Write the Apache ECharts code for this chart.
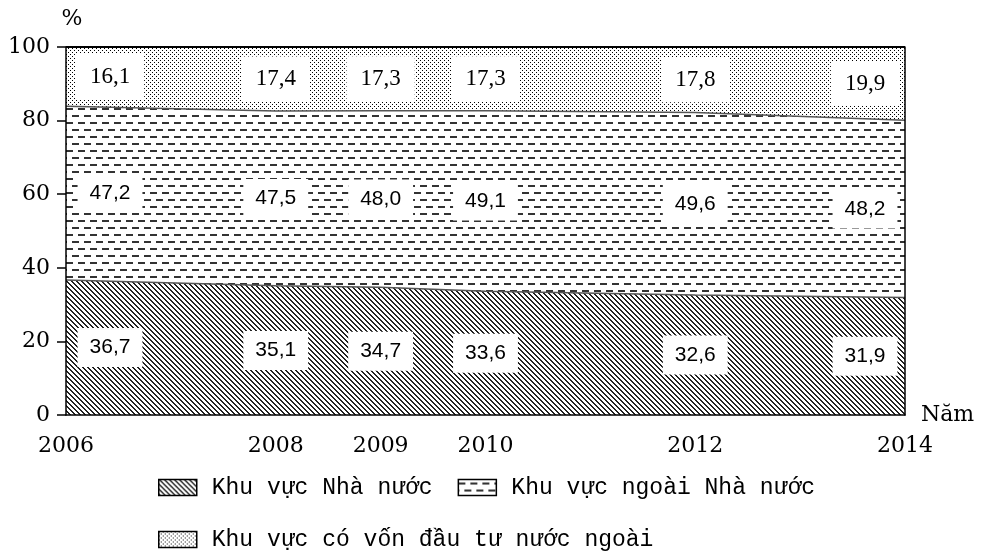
<!DOCTYPE html>
<html>
<head>
<meta charset="utf-8">
<script src="https://cdn.jsdelivr.net/npm/echarts@6/dist/echarts.min.js"></script>
<style>
  html, body { margin: 0; padding: 0; background: #fff; }
  #chart { width: 985px; height: 554px; }
</style>
</head>
<body>
<div id="chart"></div>
<script>
// co cau lao dong theo khu vuc kinh te (%), 2006 - 2014
var years = [2006, 2008, 2009, 2010, 2012, 2014];
var stateShare = [36.7, 35.1, 34.7, 33.6, 32.6, 31.9];
var nonStateShare = [47.2, 47.5, 48.0, 49.1, 49.6, 48.2];
var foreignShare = [16.1, 17.4, 17.3, 17.3, 17.8, 19.9];
var seriesNames = ['Khu vực Nhà nước', 'Khu vực ngoài Nhà nước', 'Khu vực có vốn đầu tư nước ngoài'];

// fill patterns like the printed figure
function makePattern(w, h, draw) {
    var c = document.createElement('canvas');
    c.width = w;
    c.height = h;
    var ctx = c.getContext('2d');
    ctx.fillStyle = '#fff';
    ctx.fillRect(0, 0, w, h);
    draw(ctx);
    return { image: c, repeat: 'repeat' };
}

var hatch = makePattern(5, 5, function (ctx) {
    ctx.fillStyle = '#222';
    for (var i = 0; i < 5; i++) {
        ctx.fillRect(i, i, 1, 1);
        ctx.fillRect((i + 1) % 5, i, 1, 1);
    }
});
var dashes = makePattern(12, 14, function (ctx) {
    ctx.fillStyle = '#333';
    ctx.fillRect(0, 3, 7, 2);
    ctx.fillRect(6, 10, 6, 2);
    ctx.fillRect(0, 10, 1, 2);
});
var dots = makePattern(4, 4, function (ctx) {
    ctx.fillStyle = '#000';
    ctx.fillRect(0, 0, 1, 1);
    ctx.fillRect(2, 2, 1, 1);
});

var bands = [stateShare, nonStateShare, foreignShare];
var fills = [hatch, dashes, dots];

// cumulative top edge of band k (bands are painted from the top one down)
function cumulative(k) {
    return years.map(function (y, i) {
        var s = 0;
        for (var j = 0; j <= k; j++) s += bands[j][i];
        return [y, Math.round(s * 10) / 10];
    });
}

// label points sit in the middle of each band
function labelPoints(k) {
    return years.map(function (y, i) {
        var base = 0;
        for (var j = 0; j < k; j++) base += bands[j][i];
        var dx = 0;
        if (i === 0) dx = 44;
        if (i === years.length - 1) dx = -40;
        return { value: [y, base + bands[k][i] / 2, bands[k][i]], label: { offset: [dx, 0] } };
    });
}

var series = [];
for (var k = 2; k >= 0; k--) {
    series.push({
        name: seriesNames[k],
        type: 'line',
        symbol: 'none',
        silent: true,
        data: cumulative(k),
        lineStyle: { color: k === 2 ? '#000' : '#555', width: k === 2 ? 2 : 1.5 },
        areaStyle: { color: fills[k], opacity: 1, origin: 'start' },
        z: 4 - k
    });
}
for (var k = 0; k < 3; k++) {
    series.push({
        type: 'scatter',
        symbolSize: 0,
        silent: true,
        z: 6,
        itemStyle: { opacity: 1 },
        data: labelPoints(k),
        label: {
            show: true,
            position: 'inside',
            formatter: function (p) { return p.value[2].toFixed(1).replace('.', ','); },
            color: '#000',
            fontFamily: k === 2 ? 'Liberation Serif' : 'Liberation Sans',
            fontSize: k === 2 ? 23 : 21,
            backgroundColor: '#fff',
            padding: k === 2 ? [11, 14] : [9, 12]
        }
    });
}

var legendText = { fontFamily: 'Liberation Mono', fontSize: 23, color: '#000', padding: [0, 0, 0, 10] };
function legendItem(k) {
    return { name: seriesNames[k], itemStyle: { color: fills[k], borderColor: '#000', borderWidth: 1.5 } };
}

var dom = document.getElementById('chart');
var myChart = echarts.init(dom);
var option = {
    animation: false,
    backgroundColor: '#fff',
    grid: { left: 66, right: 80, top: 47, bottom: 139, containLabel: false },
    legend: [
        {
            data: [legendItem(0), legendItem(1)],
            left: 158, top: 476, padding: 0,
            icon: 'rect', itemWidth: 38, itemHeight: 16, itemGap: 25,
            selectedMode: false,
            textStyle: legendText
        },
        {
            data: [legendItem(2)],
            left: 158, top: 528, padding: 0,
            icon: 'rect', itemWidth: 38, itemHeight: 16,
            selectedMode: false,
            textStyle: legendText
        }
    ],
    xAxis: {
        type: 'value',
        min: 2006, max: 2014, interval: 1,
        z: 10,
        axisLine: { lineStyle: { color: '#000', width: 1.5 } },
        axisTick: { show: false },
        splitLine: { show: false },
        axisLabel: {
            margin: 20,
            color: '#000',
            fontFamily: 'DejaVu Serif',
            fontSize: 22,
            formatter: function (v) { return years.indexOf(v) >= 0 ? String(v) : ''; }
        },
        name: 'Năm',
        nameLocation: 'end',
        nameGap: 16,
        nameTextStyle: { color: '#000', fontFamily: 'DejaVu Serif', fontSize: 22 }
    },
    yAxis: [
        {
            type: 'value',
            min: 0, max: 100, interval: 20,
            z: 10,
            axisLine: { show: true, lineStyle: { color: '#000', width: 1.5 } },
            axisTick: { show: true, length: 9, lineStyle: { color: '#000', width: 1.5 } },
            splitLine: { show: false },
            axisLabel: { margin: 16, color: '#000', fontFamily: 'DejaVu Serif', fontSize: 22 },
            name: '%',
            nameLocation: 'end',
            nameGap: 17,
            nameTextStyle: { color: '#000', fontFamily: 'DejaVu Serif', fontSize: 22, padding: [0, 0, 0, 12] }
        },
        {
            type: 'value',
            position: 'right',
            min: 0, max: 100, interval: 20,
            z: 10,
            axisLine: { show: true, lineStyle: { color: '#000', width: 1.5 } },
            axisTick: { show: false },
            axisLabel: { show: false },
            splitLine: { show: false }
        }
    ],
    series: series
};
myChart.setOption(option, true);
</script>
</body>
</html>
